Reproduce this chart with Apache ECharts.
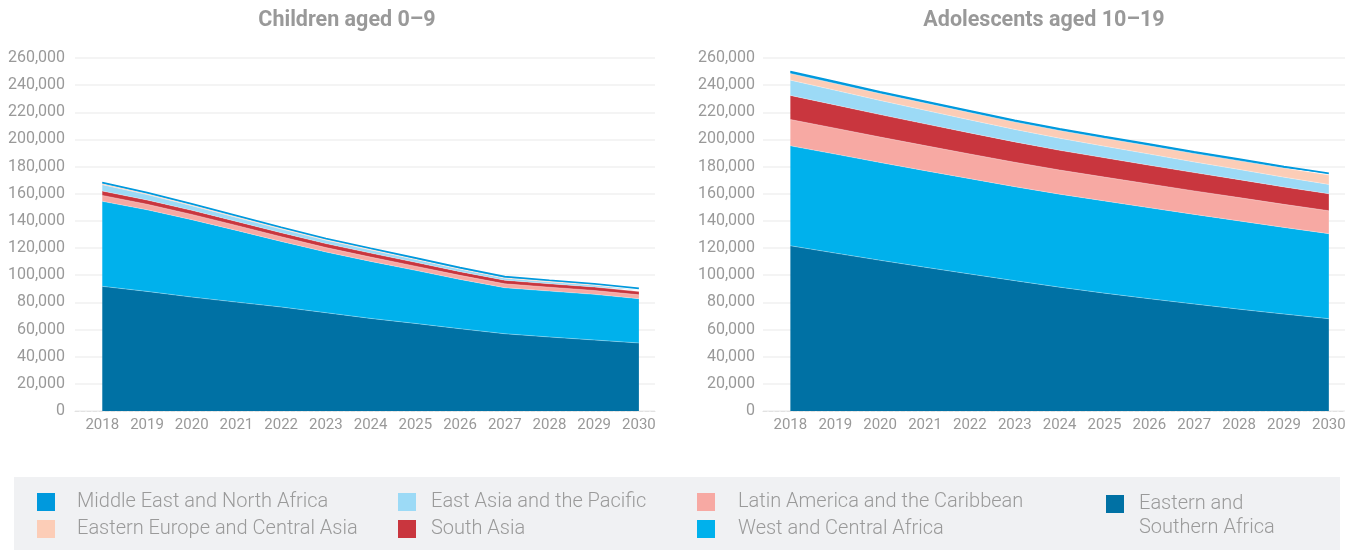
<!DOCTYPE html>
<html>
<head>
<meta charset="utf-8">
<script src="https://cdn.jsdelivr.net/npm/echarts@6/dist/echarts.min.js"></script>
<style>
html,body{margin:0;padding:0;background:#fff;}
#chart{width:1361px;height:550px;}
</style>
</head>
<body>
<div id="chart"></div>
<script>
// ---- Data ----
const years = [2018, 2019, 2020, 2021, 2022, 2023, 2024, 2025, 2026, 2027, 2028, 2029, 2030];
const yTicks = [0, 20000, 40000, 60000, 80000, 100000, 120000, 140000, 160000, 180000, 200000, 220000, 240000, 260000];
const regionNames = [
  'Eastern and Southern Africa',
  'West and Central Africa',
  'Latin America and the Caribbean',
  'South Asia',
  'East Asia and the Pacific',
  'Eastern Europe and Central Asia',
  'Middle East and North Africa'
];
// Children aged 0–9
const childESA  = [91800, 88100, 83900, 80200, 76600, 72400, 68200, 64500, 60600, 56900, 54500, 52300, 50100];
const childWCA  = [62600, 60100, 57000, 52800, 48300, 44700, 42000, 39100, 36300, 33900, 33800, 33600, 32600];
const childLAC  = [4400, 4100, 3900, 3700, 3500, 3300, 3200, 3100, 3000, 2900, 2900, 2900, 2900];
const childSA   = [3200, 3100, 3000, 2900, 2900, 2900, 2900, 2800, 2700, 2600, 2500, 2500, 2400];
const childEAP  = [4700, 4000, 3400, 3000, 2700, 2500, 2300, 2100, 1800, 1500, 1400, 1300, 1200];
const childEECA = [800, 750, 700, 700, 700, 650, 650, 600, 600, 600, 600, 600, 600];
const childMENA = [800, 750, 700, 700, 650, 650, 600, 600, 600, 550, 550, 550, 550];
// Adolescents aged 10–19
const adolESA  = [121700, 116300, 111000, 105900, 100900, 96000, 91200, 86800, 82700, 78800, 75000, 71400, 68000];
const adolWCA  = [73600, 72900, 72000, 71100, 70200, 69200, 68500, 67900, 67000, 66000, 65000, 63800, 62600];
const adolLAC  = [19400, 19100, 18800, 18500, 18200, 18000, 17800, 17600, 17500, 17300, 17200, 17000, 16900];
const adolSA   = [17700, 17100, 16500, 16000, 15500, 15000, 14500, 14200, 13800, 13500, 13200, 12800, 12500];
const adolEAP  = [11300, 10800, 10400, 10000, 9600, 9200, 8900, 8500, 8200, 7800, 7500, 7200, 6900];
const adolEECA = [4900, 5000, 5100, 5300, 5400, 5500, 5700, 5900, 6100, 6300, 6500, 6700, 6900];
const adolMENA = [1500, 1500, 1400, 1400, 1400, 1300, 1300, 1300, 1300, 1200, 1200, 1200, 1200];

const childSets = [childESA, childWCA, childLAC, childSA, childEAP, childEECA, childMENA];
const adolSets  = [adolESA, adolWCA, adolLAC, adolSA, adolEAP, adolEECA, adolMENA];

// ---- Styles ----
const colors = ['#0071A4', '#00B1EC', '#F7A9A3', '#C9363E', '#9CDAF6', '#FCCDB7', '#0099DD'];
const FONT = 'Roboto, "Liberation Sans", sans-serif';
const labelColor = '#999999';

function makeSeries(sets, axisIndex, stackName) {
  return sets.map((vals, i) => ({
    name: regionNames[i],
    type: 'line',
    stack: stackName,
    xAxisIndex: axisIndex,
    yAxisIndex: axisIndex,
    symbol: 'none',
    silent: true,
    // value first so that the stacked dimension is the value (y)
    encode: { x: 1, y: 0 },
    data: vals.map((v, j) => [v, years[j]]),
    lineStyle: i === 6 ? { width: 1.6, color: colors[i] } : { width: 0.6, color: 'rgba(255,255,255,0.5)' },
    areaStyle: { color: colors[i], opacity: 1 },
    itemStyle: { color: colors[i] },
    z: 2
  }));
}

function xAx(gi) {
  return {
    type: 'value', gridIndex: gi, min: 2017.39, max: 2030.36,
    axisLine: { show: true, lineStyle: { color: '#e2e2e2', type: 'dashed', width: 1 } },
    axisTick: { show: false },
    splitLine: { show: false },
    axisLabel: {
      customValues: years, formatter: v => String(v),
      color: labelColor, fontFamily: FONT, fontSize: 15, margin: 7
    }
  };
}
function yAx(gi, margin) {
  return {
    type: 'value', gridIndex: gi, min: 0, max: 260000, interval: 20000,
    axisLine: { show: false }, axisTick: { show: false },
    splitLine: { show: true, lineStyle: { color: '#f0f0f0', width: 1.5 } },
    axisLabel: {
      color: labelColor, fontFamily: FONT, fontSize: 16, margin: margin,
      formatter: v => v.toLocaleString('en-US')
    }
  };
}

const legendText = { color: '#9a9a9a', fontFamily: FONT, fontSize: 20, fontWeight: 300 };
function legend(left, top, names, textPad, extra) {
  return Object.assign({
    orient: 'vertical', left: left, top: top, padding: 0,
    itemWidth: 18, itemHeight: 18, itemGap: 7,
    icon: 'rect', selectedMode: false,
    data: names,
    textStyle: Object.assign({}, legendText, { padding: [0, 0, 0, textPad] })
  }, extra || {});
}

const chart = echarts.init(document.getElementById('chart'), null, { renderer: 'canvas' });
chart.setOption({
  backgroundColor: '#ffffff',
  animation: false,
  title: [
    { text: 'Children aged 0–9', left: 342, top: 5, textAlign: 'center',
      textStyle: { color: '#999999', fontFamily: FONT, fontSize: 21.5, fontWeight: 'bold' } },
    { text: 'Adolescents aged 10–19', left: 1039, top: 5, textAlign: 'center',
      textStyle: { color: '#999999', fontFamily: FONT, fontSize: 21.5, fontWeight: 'bold' } }
  ],
  graphic: [
    { type: 'rect', left: 14, top: 477, shape: { width: 1326, height: 73 }, style: { fill: '#F0F1F3' }, z: -10, silent: true }
  ],
  grid: [
    { left: 75, top: 58, width: 580, height: 353 },
    { left: 763, top: 58, width: 582, height: 353 }
  ],
  xAxis: [xAx(0), xAx(1)],
  yAxis: [yAx(0, 10), yAx(1, 8)],
  legend: [
    legend(37, 492, ['Middle East and North Africa', 'Eastern Europe and Central Asia'], 17),
    legend(398, 492, ['East Asia and the Pacific', 'South Asia'], 10),
    legend(697, 492, ['Latin America and the Caribbean', 'West and Central Africa'], 18),
    legend(1106, 468, ['Eastern and Southern Africa'], 10, {
      formatter: () => '\nEastern and\nSouthern Africa',
      textStyle: Object.assign({}, legendText, { lineHeight: 24, padding: [0, 0, 0, 10] })
    })
  ],
  series: [].concat(makeSeries(childSets, 0, 'children'), makeSeries(adolSets, 1, 'adolescents'))
});
</script>
</body>
</html>
